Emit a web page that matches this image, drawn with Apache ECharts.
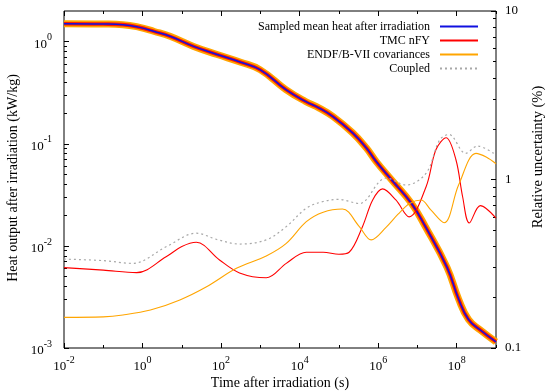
<!DOCTYPE html>
<html>
<head>
<meta charset="utf-8">
<script src="https://cdn.jsdelivr.net/npm/echarts@6/dist/echarts.min.js"></script>
<style>
html,body{margin:0;padding:0;background:#fff;}
#chart{width:546px;height:391px;}
</style>
</head>
<body>
<div id="chart"></div>
<script>
// ---- data (log10 of time in seconds, values) ----
const heatLogT = [-2, -1, -0.5, -0.1, 0.3, 0.7, 1.3, 1.9, 2.5, 3.0, 3.65, 4.15, 4.5, 4.85, 5.35, 5.7, 5.95, 6.35, 6.85, 7.2, 7.75, 8.05, 8.3, 8.6, 9.0];
const heatMean = [1.50, 1.49, 1.47, 1.39, 1.26, 1.13, 0.90, 0.75, 0.63, 0.53, 0.34, 0.26, 0.224, 0.185, 0.128, 0.091, 0.067, 0.044, 0.026, 0.0155, 0.0062, 0.0030, 0.0019, 0.0015, 0.00115];

const tmcLogT = [-2, -1, -0.15, 0.6, 1.0, 1.37, 1.96, 2.47, 3.15, 3.66, 4.17, 4.6, 5.0, 5.26, 5.6, 5.86, 6.11, 6.45, 6.79, 7.22, 7.47, 7.73, 7.98, 8.15, 8.32, 8.6, 9.0];
const tmcUnc = [0.30, 0.29, 0.28, 0.348, 0.40, 0.424, 0.333, 0.279, 0.261, 0.318, 0.37, 0.37, 0.36, 0.37, 0.525, 0.756, 0.88, 0.756, 0.60, 0.906, 1.50, 1.77, 1.31, 0.79, 0.552, 0.70, 0.59];

const endfLogT = [-2, -1, -0.5, 0.2, 0.95, 1.63, 2.39, 3.15, 3.66, 4.17, 4.6, 5.09, 5.52, 5.82, 6.2, 6.5, 6.8, 7.09, 7.34, 7.68, 8.05, 8.49, 8.75, 9.0];
const endfUnc = [0.152, 0.153, 0.157, 0.168, 0.193, 0.231, 0.297, 0.352, 0.418, 0.562, 0.64, 0.668, 0.525, 0.438, 0.52, 0.62, 0.72, 0.756, 0.66, 0.554, 0.93, 1.43, 1.36, 1.24];

const coupledLogT = [-2, -1, -0.25, 0.61, 1.37, 1.9, 2.47, 3.15, 3.66, 4.17, 4.6, 5.0, 5.52, 6.03, 6.2, 6.71, 7.22, 7.56, 7.8, 8.23, 8.53, 9.0];
const coupledUnc = [0.337, 0.33, 0.318, 0.40, 0.48, 0.44, 0.414, 0.438, 0.525, 0.675, 0.74, 0.762, 0.72, 0.97, 1.02, 0.927, 1.09, 1.71, 1.85, 1.43, 1.58, 1.40];

// ---- tick labels ----
const xTickExp = [-2, 0, 2, 4, 6, 8];
const leftTickExp = [-3, -2, -1, 0];
const rightTicks = [0.1, 1, 10];
const rightTickLabels = ['0.1', '1', '10'];

const seriesNames = ['Sampled mean heat after irradiation', 'TMC nFY', 'ENDF/B-VII covariances', 'Coupled'];
const xTitle = 'Time after irradiation (s)';
const yTitle = 'Heat output after irradiation (kW/kg)';
const y2Title = 'Relative uncertainty (%)';

// ---- helpers ----
function pairs(logT, vals) { return logT.map((e, i) => [Math.pow(10, e), vals[i]]); }
const xMajor = xTickExp.map(e => Math.pow(10, e));
const xMinor = xTickExp.map(e => Math.pow(10, e + 1));
const leftMajor = leftTickExp.map(e => Math.pow(10, e));
const leftMinor = [];
[-3, -2, -1].forEach(d => { for (let m = 2; m <= 9; m++) leftMinor.push(+(m * Math.pow(10, d)).toPrecision(3)); });
const rightMinor = [];
[-1, 0].forEach(d => { for (let m = 2; m <= 9; m++) rightMinor.push(+(m * Math.pow(10, d)).toPrecision(3)); });

const FONT = 'Liberation Serif';
const supRich = {
  b: { fontFamily: FONT, fontSize: 13, lineHeight: 18, verticalAlign: 'bottom', color: '#000' },
  s: { fontFamily: FONT, fontSize: 10, lineHeight: 10, verticalAlign: 'top', color: '#000' }
};
function powLabel(v) { return '{b|10}{s|' + Math.round(Math.log10(v)) + '}'; }

const XMIN = 1e-2, XMAX = 1e9;
function xAx(pos, major, showLabel) {
  return {
    type: 'log', logBase: 10, min: XMIN, max: XMAX, position: pos,
    axisLine: { show: false }, splitLine: { show: false },
    axisTick: { show: true, inside: true, length: major ? 5 : 3, customValues: major ? xMajor : xMinor, lineStyle: { color: '#000', width: 1 } },
    axisLabel: showLabel ? { show: true, customValues: xMajor, formatter: powLabel, rich: supRich, margin: 7 } : { show: false }
  };
}
function yAx(pos, min, max, ticks, len, label) {
  return {
    type: 'log', logBase: 10, min: min, max: max, position: pos,
    axisLine: { show: false }, splitLine: { show: false },
    axisTick: { show: true, inside: true, length: len, customValues: ticks, lineStyle: { color: '#000', width: 1 } },
    axisLabel: label || { show: false }
  };
}

const chart = echarts.init(document.getElementById('chart'), null, { renderer: 'canvas' });
const heatData = pairs(heatLogT, heatMean);
const SM = 0.45;
const option = {
  animation: false,
  backgroundColor: '#fff',
  textStyle: { fontFamily: FONT },
  grid: { left: 64, right: 50, top: 11, bottom: 43, show: true, borderColor: '#000', borderWidth: 1, backgroundColor: 'transparent' },
  xAxis: [xAx('bottom', true, true), xAx('bottom', false, false), xAx('top', true, false), xAx('top', false, false)],
  yAxis: [
    yAx('left', 1e-3, 2, leftMajor, 5, { show: true, customValues: leftMajor, formatter: powLabel, rich: supRich, margin: 12 }),
    yAx('left', 1e-3, 2, leftMinor, 3, null),
    yAx('right', 0.1, 10, rightTicks, 5, { show: true, customValues: rightTicks, margin: 9, fontFamily: FONT, fontSize: 13, color: '#000',
      formatter: v => rightTickLabels[rightTicks.findIndex(t => Math.abs(t - v) / t < 1e-6)] }),
    yAx('right', 0.1, 10, rightMinor, 3, null)
  ],
  legend: {
    data: seriesNames, orient: 'vertical', right: 67, top: 19.5, align: 'right',
    itemWidth: 38, itemHeight: 8, itemGap: 0, padding: 0,
    itemStyle: { color: 'transparent', borderColor: 'transparent', borderWidth: 0, opacity: 0 },
    textStyle: { fontFamily: FONT, fontSize: 12, color: '#000', lineHeight: 14, padding: [0, 5, 0, 0] },
    selectedMode: false
  },
  series: [
    { name: 'band-outer', type: 'line', xAxisIndex: 0, yAxisIndex: 0, data: heatData, smooth: SM, showSymbol: false, symbol: 'none',
      lineStyle: { color: '#ffa500', width: 7 }, silent: true, z: 1 },
    { name: 'band-inner', type: 'line', xAxisIndex: 0, yAxisIndex: 0, data: heatData, smooth: SM, showSymbol: false, symbol: 'none',
      lineStyle: { color: '#ff1a00', width: 3.6 }, silent: true, z: 2 },
    { name: seriesNames[0], type: 'line', xAxisIndex: 0, yAxisIndex: 0, data: heatData, smooth: SM, showSymbol: false, symbol: 'none',
      lineStyle: { color: '#1010e0', width: 1.5 }, itemStyle: { color: '#1010e0' }, z: 3 },
    { name: seriesNames[1], type: 'line', xAxisIndex: 0, yAxisIndex: 2, data: pairs(tmcLogT, tmcUnc), smooth: 0.35, showSymbol: false, symbol: 'none',
      lineStyle: { color: '#ff0000', width: 1.1 }, itemStyle: { color: '#ff0000' }, z: 4 },
    { name: seriesNames[2], type: 'line', xAxisIndex: 0, yAxisIndex: 2, data: pairs(endfLogT, endfUnc), smooth: 0.35, showSymbol: false, symbol: 'none',
      lineStyle: { color: '#ffa500', width: 1.1 }, itemStyle: { color: '#ffa500' }, z: 4 },
    { name: seriesNames[3], type: 'line', xAxisIndex: 0, yAxisIndex: 2, data: pairs(coupledLogT, coupledUnc), smooth: 0.35, showSymbol: false, symbol: 'none',
      lineStyle: { color: '#a8a8a8', width: 1.2, type: [2, 3] }, itemStyle: { color: '#a8a8a8' }, z: 4 }
  ],
  graphic: [
    { type: 'text', x: 280, y: 383, style: { text: xTitle, font: '14px "Liberation Serif"', fill: '#000', align: 'center', verticalAlign: 'middle' } },
    { type: 'text', x: 13, y: 178, rotation: Math.PI / 2, style: { text: yTitle, font: '14px "Liberation Serif"', fill: '#000', align: 'center', verticalAlign: 'middle' } },
    { type: 'text', x: 538, y: 157, rotation: Math.PI / 2, style: { text: y2Title, font: '14.5px "Liberation Serif"', fill: '#000', align: 'center', verticalAlign: 'middle' } }
  ]
};
chart.setOption(option);
</script>
</body>
</html>
